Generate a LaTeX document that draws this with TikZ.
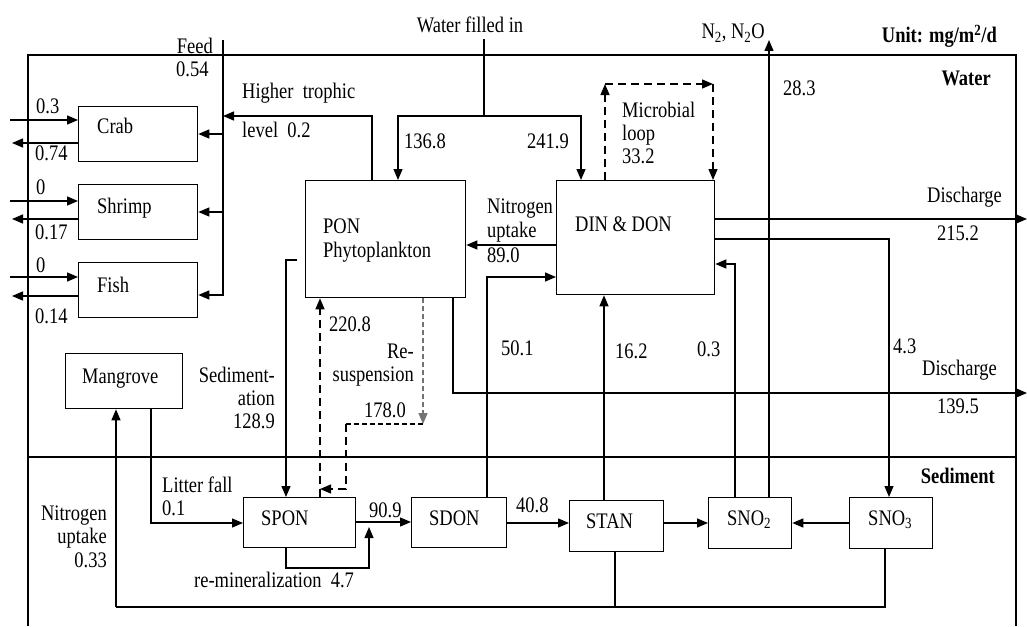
\documentclass[tikz,border=0pt]{standalone}
\usepackage{fontspec}
\usepackage{graphicx}
\setmainfont{Liberation Serif}
\usetikzlibrary{arrows.meta}
\newcommand\Tx[1]{\scalebox{1}[1.2]{#1}}
\begin{document}
\begin{tikzpicture}[x=1pt,y=-1pt,
  font=\fontsize{18.5}{23}\selectfont,
  box/.style={draw, line width=1.3pt, inner sep=0pt, anchor=north west},
  tw/.style={inner sep=0pt, anchor=base west},
  te/.style={inner sep=0pt, anchor=base east},
  tc/.style={inner sep=0pt, anchor=base},
  ln/.style={line width=1.3pt},
  arr/.style={ln, -{Triangle[length=11pt,width=9pt]}},
  dsh/.style={arr, dash pattern=on 8pt off 5pt},
  dshs/.style={ln, dash pattern=on 5pt off 3pt},
  dshg/.style={arr, draw=black!55, dash pattern=on 5pt off 3pt}
]
\useasboundingbox (0,0) rectangle (1027,626);
% frame
\draw[ln] (28,626) -- (28,55) -- (1016,55) -- (1016,626);
\draw[ln] (28,457) -- (1016,457);
% boxes
\node[box, minimum width=119pt, minimum height=55pt] (crab) at (78,106) {};
\node[box, minimum width=119pt, minimum height=55pt] (shrimp) at (78,184) {};
\node[box, minimum width=119pt, minimum height=55pt] (fish) at (78,262) {};
\node[box, minimum width=160pt, minimum height=117pt] (pon) at (305,180) {};
\node[box, minimum width=158pt, minimum height=114pt] (din) at (556,180) {};
\node[box, minimum width=117pt, minimum height=55pt] (mangrove) at (65,353) {};
\node[box, minimum width=112pt, minimum height=50pt] (spon) at (243,497) {};
\node[box, minimum width=95pt, minimum height=50pt] (sdon) at (411,497) {};
\node[box, minimum width=94pt, minimum height=51pt] (stan) at (569,500) {};
\node[box, minimum width=83pt, minimum height=51pt] (sno2) at (708,497) {};
\node[box, minimum width=83pt, minimum height=51pt] (sno3) at (849,497) {};
% box texts
\node[tw] (tcrab) at (97,133) {\Tx{Crab}};
\node[tw] (tshrimp) at (97,213) {\Tx{Shrimp}};
\node[tw] (tfish) at (97,292) {\Tx{Fish}};
\node[tw] (tpon) at (323,233) {\Tx{PON}};
\node[tw] (tphy) at (323,257) {\Tx{Phytoplankton}};
\node[tw] (tdin) at (575,231) {\Tx{DIN \& DON}};
\node[tw] (tmang) at (82,383) {\Tx{Mangrove}};
\node[tw] (tspon) at (261,525) {\Tx{SPON}};
\node[tw] (tsdon) at (429,525) {\Tx{SDON}};
\node[tw] (tstan) at (586,528) {\Tx{STAN}};
\node[tw] (tsno2) at (727,525) {\Tx{SNO\textsubscript{2}}};
\node[tw] (tsno3) at (868,525) {\Tx{SNO\textsubscript{3}}};
% coordinates for free ends
\coordinate (feedtop) at (223,40);
\coordinate (wtop) at (484,39);
\coordinate (n2top) at (769,40);
\coordinate (dis1) at (1027,219);
\coordinate (dis2) at (1027,393);
\coordinate (crabin) at (10,120);
\coordinate (crabout) at (12,143);
\coordinate (shrimpin) at (10,201);
\coordinate (shrimpout) at (12,219);
\coordinate (fishin) at (10,277);
\coordinate (fishout) at (12,296);
% animal in/out
\draw[arr] (crabin) -- (crab.west |- crabin);
\draw[arr] (crab.west |- crabout) -- (crabout);
\draw[arr] (shrimpin) -- (shrimp.west |- shrimpin);
\draw[arr] (shrimp.west |- shrimpout) -- (shrimpout);
\draw[arr] (fishin) -- (fish.west |- fishin);
\draw[arr] (fish.west |- fishout) -- (fishout);
% feed
\draw[arr] (feedtop) -- (223,295) -- (fish.east |- 0,295);
\draw[arr] (223,212) -- (shrimp.east |- 0,212);
\draw[arr] (223,134) -- (crab.east |- 0,134);
% higher trophic
\draw[arr] (pon.north -| 372,0) -- (372,116) -- (223,116);
% water filled in
\draw[ln] (wtop) -- (484,116);
\draw[arr] (484,116) -- (398,116) -- (pon.north -| 398,0);
\draw[arr] (484,116) -- (581,116) -- (din.north -| 581,0);
% nitrogen uptake
\draw[arr] (din.west |- 0,245) -- (pon.east |- 0,245);
% microbial loop
\draw[dsh] (din.north -| 605,0) -- (605,84);
\draw[dsh] (605,84) -- (713,84);
\draw[dsh] (713,84) -- (din.north -| 713,0);
% N2
\draw[arr] (sno2.north -| n2top) -- (n2top);
% 0.3
\draw[arr] (sno2.north -| 735,0) -- (735,264) -- (din.east |- 0,264);
% discharge 1
\draw[arr] (din.east |- dis1) -- (dis1);
% 4.3
\draw[arr] (din.east |- 0,239) -- (889,239) -- (sno3.north -| 889,0);
% discharge 2
\draw[arr] (pon.south -| 453,0) -- (453,393) -- (dis2);
% 50.1
\draw[arr] (sdon.north -| 487,0) -- (487,277) -- (din.west |- 0,277);
% 16.2
\draw[arr] (stan.north -| 604,0) -- (din.south -| 604,0);
% sedimentation
\draw[arr] (297,260) -- (286,260) -- (spon.north -| 286,0);
% 220.8
\draw[dsh] (spon.north -| 320,0) -- (pon.south -| 320,0);
% resuspension
\draw[dshg] (pon.south -| 423,0) -- (423,424);
\draw[dshs] (423,424) -- (346,424);
\draw[dsh] (346,424) -- (346,489) -- (320,489);
% mangrove
\draw[arr] (116,607) -- (mangrove.south -| 116,0);
\draw[arr] (mangrove.south -| 151,0) -- (151,523) -- (spon.west |- 0,523);
% sediment chain
\draw[arr] (spon.east |- 0,522) -- (sdon.west |- 0,522);
\draw[arr] (spon.south -| 286,0) -- (286,568) -- (369,568) -- (369,527);
\draw[arr] (sdon.east |- 0,523) -- (stan.west |- 0,523);
\draw[arr] (stan.east |- 0,523) -- (sno2.west |- 0,523);
\draw[arr] (sno3.west |- 0,523) -- (sno2.east |- 0,523);
\draw[ln] (stan.south -| 615,0) -- (615,607);
\draw[ln] (sno3.south -| 885,0) -- (885,607) -- (116,607);
% labels
\node[te] (lfeed) at (213,53) {\Tx{Feed}};
\node[tw] (l054) at (176,77) {\Tx{0.54}};
\node[tw] (lht) at (242,98) {\Tx{Higher\ \ trophic}};
\node[tw] (llev) at (242,137) {\Tx{level\ \ 0.2}};
\node[tw] (l03) at (36,113) {\Tx{0.3}};
\node[tw] (l074) at (35,160) {\Tx{0.74}};
\node[tw] (l0a) at (36,194) {\Tx{0}};
\node[tw] (l017) at (35,239) {\Tx{0.17}};
\node[tw] (l0b) at (36,272) {\Tx{0}};
\node[tw] (l014) at (35,323) {\Tx{0.14}};
\node[tc] (lwater) at (470,33) {\Tx{Water filled in}};
\node[tw] (l1368) at (404,148) {\Tx{136.8}};
\node[tw] (l2419) at (527,148) {\Tx{241.9}};
\node[tw] (lnit1) at (487,213) {\Tx{Nitrogen}};
\node[tw] (lupt1) at (487,237) {\Tx{uptake}};
\node[tw] (l890) at (487,262) {\Tx{89.0}};
\node[tw] (lmic) at (622,117) {\Tx{Microbial}};
\node[tw] (lloop) at (622,140) {\Tx{loop}};
\node[tw] (l332) at (622,163) {\Tx{33.2}};
\node[te] (ln2) at (765,39) {\Tx{N\textsubscript{2}, N\textsubscript{2}O}};
\node[te] (lunit) at (997,43) {\Tx{\textbf{Unit: mg/m\textsuperscript{2}/d}}};
\node[te] (lwat) at (991,85) {\Tx{\textbf{Water}}};
\node[tw] (l283) at (783,95) {\Tx{28.3}};
\node[te] (ldis1) at (1002,202) {\Tx{Discharge}};
\node[tw] (l2152) at (937,240) {\Tx{215.2}};
\node[te] (ldis2) at (997,375) {\Tx{Discharge}};
\node[tw] (l1395) at (937,413) {\Tx{139.5}};
\node[tw] (l43) at (893,353) {\Tx{4.3}};
\node[tw] (l03b) at (697,356) {\Tx{0.3}};
\node[tw] (l162) at (615,358) {\Tx{16.2}};
\node[tw] (l501) at (501,355) {\Tx{50.1}};
\node[te] (lsed1) at (275,382) {\Tx{Sediment-}};
\node[te] (lsed2) at (275,405) {\Tx{ation}};
\node[te] (lsed3) at (275,428) {\Tx{128.9}};
\node[te] (lre1) at (414,358) {\Tx{Re-}};
\node[te] (lre2) at (414,381) {\Tx{suspension}};
\node[te] (l1780) at (406,417) {\Tx{178.0}};
\node[tw] (l2208) at (329,331) {\Tx{220.8}};
\node[tw] (llit) at (162,492) {\Tx{Litter fall}};
\node[tw] (l01) at (162,515) {\Tx{0.1}};
\node[te] (lnit2) at (107,520) {\Tx{Nitrogen}};
\node[te] (lupt2) at (107,543) {\Tx{uptake}};
\node[te] (l033) at (107,567) {\Tx{0.33}};
\node[tw] (l909) at (369,517) {\Tx{90.9}};
\node[tw] (lremin) at (194,587) {\Tx{re-mineralization\ \ 4.7}};
\node[tw] (l408) at (516,512) {\Tx{40.8}};
\node[te] (lsedi) at (995,483) {\Tx{\textbf{Sediment}}};
\end{tikzpicture}
\end{document}
